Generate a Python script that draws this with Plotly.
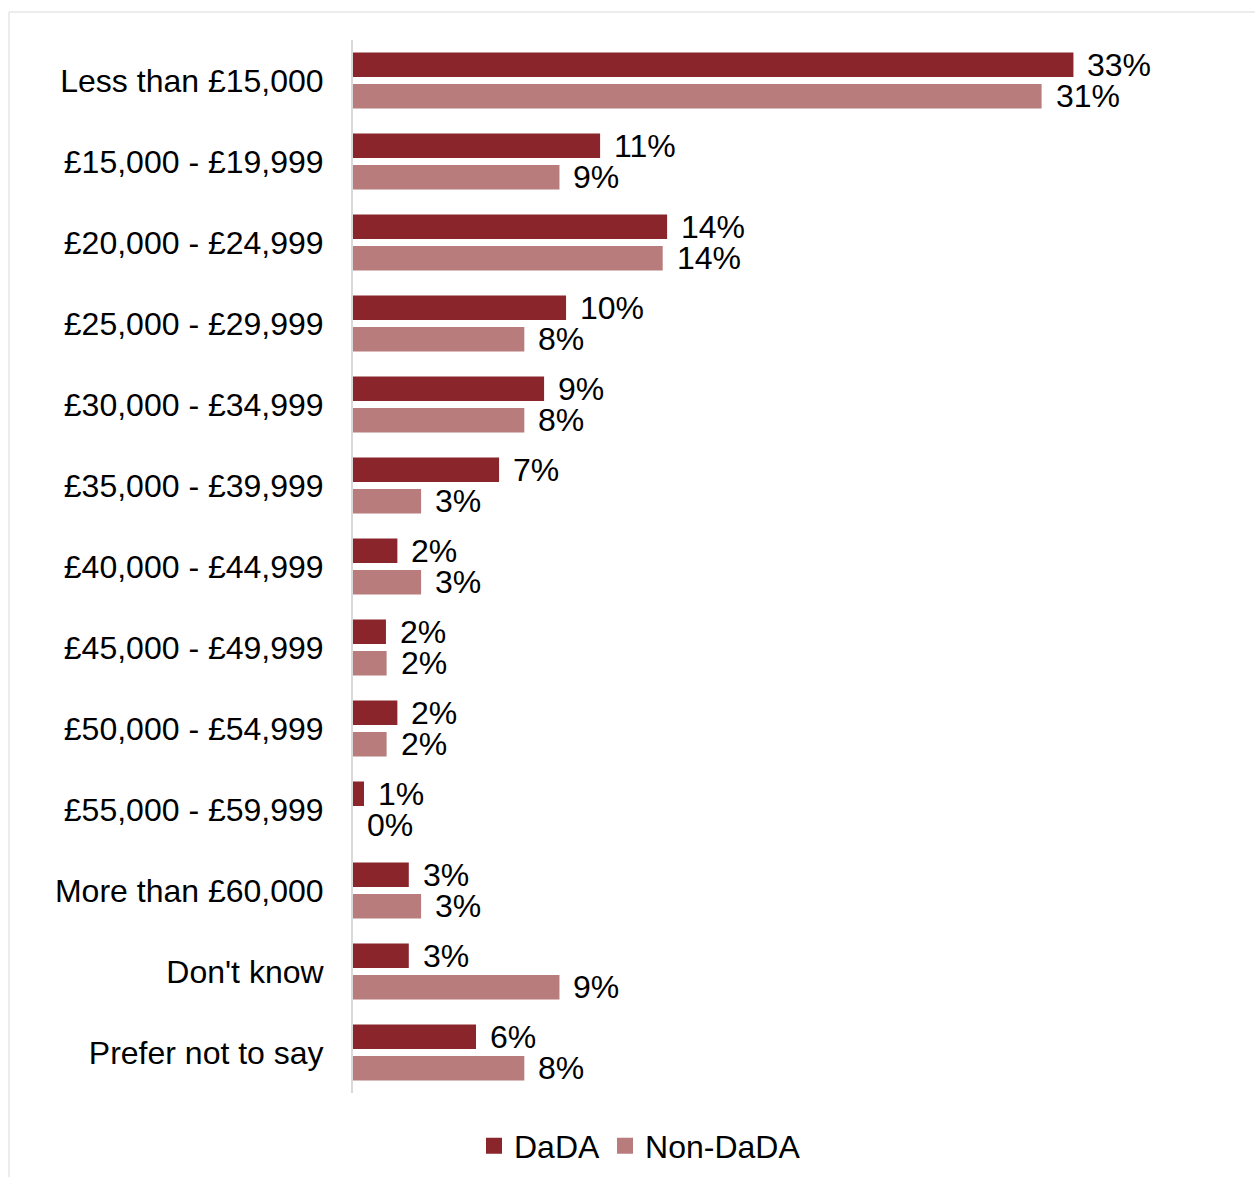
import math
import plotly.graph_objects as go

# Annual household income bands and share of respondents (%) in each group
categories = [
    "Less than £15,000",
    "£15,000 - £19,999",
    "£20,000 - £24,999",
    "£25,000 - £29,999",
    "£30,000 - £34,999",
    "£35,000 - £39,999",
    "£40,000 - £44,999",
    "£45,000 - £49,999",
    "£50,000 - £54,999",
    "£55,000 - £59,999",
    "More than £60,000",
    "Don't know",
    "Prefer not to say",
]
dada = [32.8, 11.25, 14.3, 9.7, 8.7, 6.65, 2.02, 1.5, 2.02, 0.5, 2.54, 2.54, 5.6]
non_dada = [31.35, 9.4, 14.1, 7.8, 7.8, 3.1, 3.1, 1.53, 1.53, 0.0, 3.1, 9.4, 7.8]
series_names = ["DaDA", "Non-DaDA"]

DADA_COLOR = "#8A252B"
NON_COLOR = "#B97C7C"
FONT = "Liberation Sans, Arial, sans-serif"
FS = 32

W, H = 1255, 1177
ML, MR, MT, MB = 353, 30, 40, 84
BARGAP, GROUPGAP = 0.222, 0.222
plot_w = W - ML - MR
plot_h = H - MT - MB
row_h = plot_h / len(categories)
slot_offset = row_h * (1 - BARGAP) / 4  # centre of each bar relative to its row


def pct(v):
    return f"{int(math.floor(v + 0.5))}%"


fig = go.Figure()
for name, vals, col in [(series_names[0], dada, DADA_COLOR), (series_names[1], non_dada, NON_COLOR)]:
    fig.add_trace(go.Bar(
        y=categories, x=vals, name=name, orientation="h",
        marker=dict(color=col, line=dict(width=0)),
        showlegend=False, hoverinfo="x+y",
    ))
    # legend swatch
    fig.add_trace(go.Scatter(
        x=[None], y=[None], mode="markers", name=name,
        marker=dict(symbol="square", size=16, color=col),
        showlegend=True,
    ))

annotations = []
for vals, shift in [(dada, slot_offset), (non_dada, -slot_offset)]:
    for cat, v in zip(categories, vals):
        annotations.append(dict(
            x=v, y=cat, xref="x", yref="y", text=pct(v), showarrow=False,
            xanchor="left", yanchor="middle", xshift=13, yshift=shift,
            borderpad=0,
            font=dict(family=FONT, size=FS, color="black"),
        ))

# light outer frame around the chart
shapes = [dict(
    type="rect", xref="paper", yref="paper",
    x0=(9 - ML) / plot_w, x1=(W + 20 - ML) / plot_w,
    y0=-(H + 20 - MT - plot_h) / plot_h, y1=(H - 12 - MB) / plot_h,
    line=dict(color="#D9D9D9", width=1), fillcolor="rgba(0,0,0,0)", layer="below",
)]

fig.update_layout(
    width=W, height=H, autosize=False,
    margin=dict(l=ML, r=MR, t=MT, b=MB, autoexpand=False),
    paper_bgcolor="white", plot_bgcolor="white",
    barmode="group", bargap=BARGAP, bargroupgap=GROUPGAP,
    font=dict(family=FONT, size=FS, color="black"),
    xaxis=dict(range=[0, 39.7], showgrid=False, zeroline=False, showline=False,
               showticklabels=False, ticks="", fixedrange=True),
    yaxis=dict(autorange="reversed", showgrid=False, zeroline=False,
               showline=True, linecolor="#D9D9D9", linewidth=2,
               ticks="outside", ticklen=21, tickcolor="rgba(0,0,0,0)",
               tickfont=dict(family=FONT, size=FS, color="black"), fixedrange=True),
    legend=dict(orientation="h", xanchor="center", x=(640 - ML) / plot_w,
                yref="container", yanchor="middle", y=1 - 1146 / H,
                font=dict(family=FONT, size=FS, color="black"),
                bgcolor="rgba(0,0,0,0)", itemclick=False, itemdoubleclick=False),
    annotations=annotations,
    shapes=shapes,
)

fig.write_html("out.html")
